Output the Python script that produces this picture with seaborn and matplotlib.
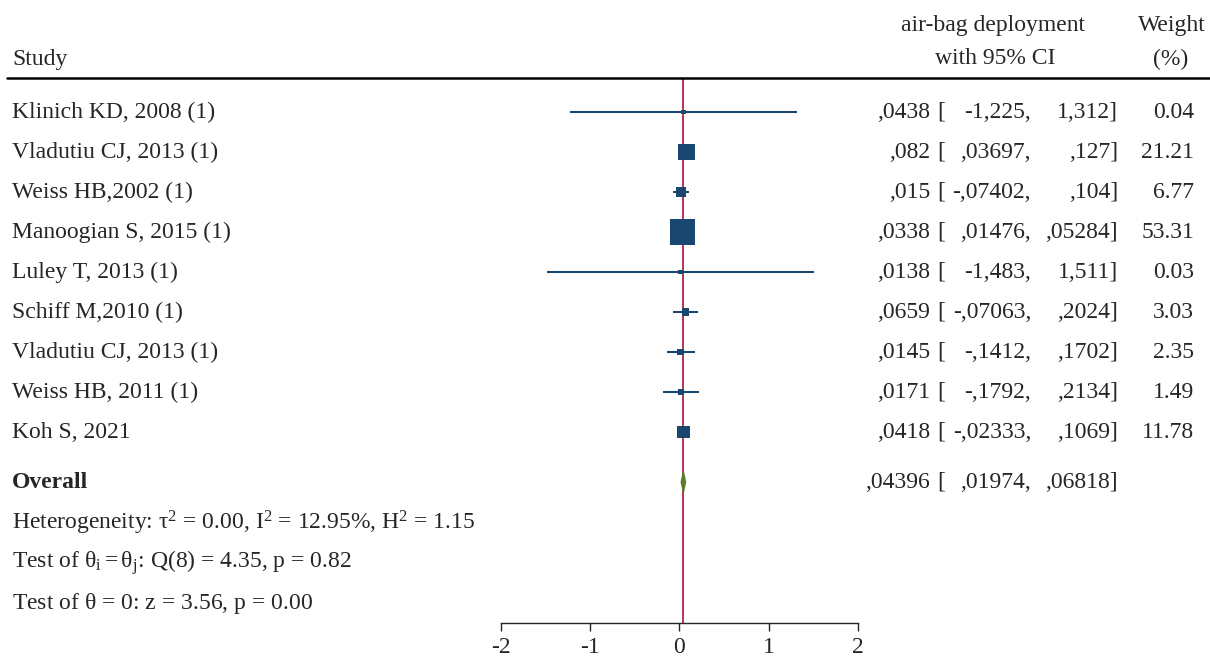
import numpy as np
import matplotlib
matplotlib.use("Agg")
import matplotlib.pyplot as plt
import matplotlib.transforms as mtransforms
import seaborn as sns

# study data
studies = ["Klinich KD, 2008 (1)", "Vladutiu CJ, 2013 (1)", "Weiss HB,2002 (1)",
           "Manoogian S, 2015 (1)", "Luley T, 2013 (1)", "Schiff M,2010 (1)",
           "Vladutiu CJ, 2013 (1)", "Weiss HB, 2011 (1)", "Koh S, 2021"]
est = [0.0438, 0.082, 0.015, 0.0338, 0.0138, 0.0659, 0.0145, 0.0171, 0.0418]
lo = [-1.225, 0.03697, -0.07402, 0.01476, -1.483, -0.07063, -0.1412, -0.1792, -0.02333]
hi = [1.312, 0.127, 0.104, 0.05284, 1.511, 0.2024, 0.1702, 0.2134, 0.1069]
weight = [0.04, 21.21, 6.77, 53.31, 0.03, 3.03, 2.35, 1.49, 11.78]

# printed values as they appear in the table
est_txt = [",0438", ",082", ",015", ",0338", ",0138", ",0659", ",0145", ",0171", ",0418"]
lo_txt = ["-1,225,", ",03697,", "-,07402,", ",01476,", "-1,483,", "-,07063,", "-,1412,", "-,1792,", "-,02333,"]
hi_txt = ["1,312]", ",127]", ",104]", ",05284]", "1,511]", ",2024]", ",1702]", ",2134]", ",1069]"]

overall_est = 0.04396
overall_lo = 0.01974
overall_hi = 0.06818
overall_txt = [",04396", ",01974,", ",06818]"]

het_lines = [r"Heterogeneity: $\mathregular{\tau^2}$ = 0.00, $\mathregular{I^2}$ = 12.95%, $\mathregular{H^2}$ = 1.15",
             r"Test of $\mathregular{\theta_i = \theta_j}$: Q(8) = 4.35, p = 0.82",
             r"Test of $\mathregular{\theta}$ = 0: z = 3.56, p = 0.00"]
xticks = [-2, -1, 0, 1, 2]

navy = "#1a476f"
red = "#a8143a"
green = "#5a7d2a"

sns.set_style("white")
plt.rcParams["font.family"] = ["Liberation Serif", "DejaVu Serif"]
plt.rcParams["mathtext.fontset"] = "custom"
plt.rcParams["mathtext.rm"] = "Liberation Serif"
plt.rcParams["mathtext.it"] = "Liberation Serif:italic"
plt.rcParams["axes.unicode_minus"] = False
fs = 17

fig = plt.figure(figsize=(12.1, 6.59), dpi=100)
ax = fig.add_axes([0, 36 / 659, 1, 623 / 659])
ax.set_xlim(-7.613, 5.944)
ax.set_ylim(12.775, -2.8)

y = np.arange(len(studies))
y_overall = 9.25

# CI whiskers
ax.hlines(y, lo, hi, color=navy, lw=1.5, zorder=2)

# weight squares
sns.scatterplot(x=est, y=y, size=weight, sizes=(10, 350), size_norm=(0, 53.31),
                marker="s", color=navy, linewidth=0, legend=False, ax=ax, zorder=3)

# overall line and diamond
ax.vlines(overall_est, -0.85, 12.775, color=red, lw=1.2, zorder=1)
ax.fill([overall_lo, overall_est, overall_hi, overall_est],
        [y_overall, y_overall - 0.25, y_overall, y_overall + 0.25], color=green, zorder=4)

# header
ax.axhline(-0.85, xmin=0.006, xmax=1, color="black", lw=1.8)
trans = mtransforms.blended_transform_factory(ax.transAxes, ax.transData)
ax.text(12 / 1210, -1.325, "Study", transform=trans, fontsize=fs, va="center")
ax.text(993 / 1210, -2.175, "air-bag deployment", transform=trans, fontsize=fs, va="center", ha="center")
ax.text(995 / 1210, -1.325, "with 95% CI", transform=trans, fontsize=fs, va="center", ha="center")
ax.text(1172 / 1210, -2.175, "Weight", transform=trans, fontsize=fs, va="center", ha="center")
ax.text(1171 / 1210, -1.325, "(%)", transform=trans, fontsize=fs, va="center", ha="center")

# table rows
for i in range(len(studies)):
    ax.text(12 / 1210, y[i], studies[i], transform=trans, fontsize=fs, va="center")
    ax.text(930 / 1210, y[i], est_txt[i], transform=trans, fontsize=fs, va="center", ha="right")
    ax.text(937 / 1210, y[i], "[", transform=trans, fontsize=fs, va="center")
    ax.text(1031 / 1210, y[i], lo_txt[i], transform=trans, fontsize=fs, va="center", ha="right")
    ax.text(1118 / 1210, y[i], hi_txt[i], transform=trans, fontsize=fs, va="center", ha="right")
    ax.text(1194 / 1210, y[i], "%.2f" % weight[i], transform=trans, fontsize=fs, va="center", ha="right")

ax.text(12 / 1210, y_overall, "Overall", transform=trans, fontsize=fs, va="center", fontweight="bold")
ax.text(930 / 1210, y_overall, overall_txt[0], transform=trans, fontsize=fs, va="center", ha="right")
ax.text(937 / 1210, y_overall, "[", transform=trans, fontsize=fs, va="center")
ax.text(1031 / 1210, y_overall, overall_txt[1], transform=trans, fontsize=fs, va="center", ha="right")
ax.text(1118 / 1210, y_overall, overall_txt[2], transform=trans, fontsize=fs, va="center", ha="right")

for k, line in enumerate(het_lines):
    ax.text(12 / 1210, y_overall + 1.025 + k, line, transform=trans, fontsize=fs, va="center")

# x axis only under the forest column
for s in ["top", "left", "right"]:
    ax.spines[s].set_visible(False)
ax.spines["bottom"].set_bounds(-2, 2)
ax.spines["bottom"].set_linewidth(1.0)
ax.set_xticks(xticks)
ax.set_xticklabels([str(t) for t in xticks], fontsize=fs)
ax.tick_params(axis="x", direction="out", length=6, width=1.0, pad=4, bottom=True)
ax.set_yticks([])
ax.set_xlabel("")
ax.set_ylabel("")

fig.savefig("out.png", dpi=100)
